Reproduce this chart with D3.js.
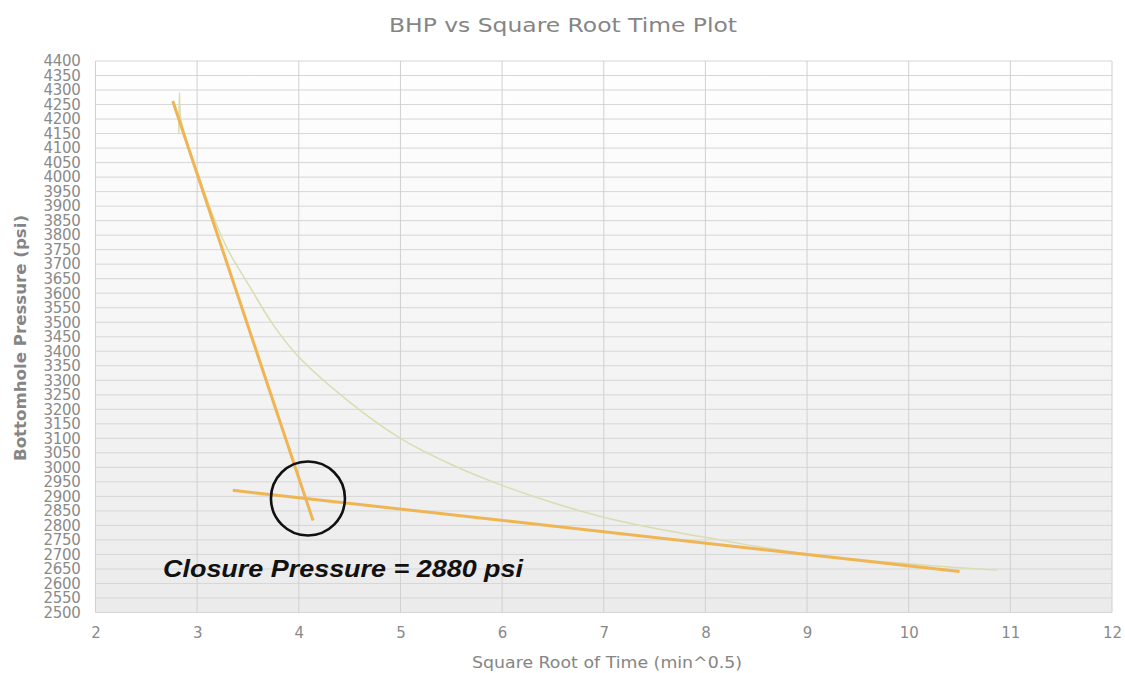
<!DOCTYPE html>
<html><head><meta charset="utf-8">
<script src="https://cdn.jsdelivr.net/npm/d3@7"></script>
<style>body{margin:0;background:#fff}</style>
</head><body>
<svg id="c" width="1125" height="673"></svg>
<script>
// Data
const curveX = [2.82, 2.825, 2.84, 2.92, 3.02, 3.12, 3.22, 3.32, 3.52, 3.75, 4.0, 4.5, 5.0, 5.5, 6.0, 6.5, 7.0, 7.5, 8.0, 8.5, 9.0, 9.5, 10.0, 10.5, 10.87];
const curveY = [4150, 4290, 4200, 4100, 4000, 3900, 3812, 3738, 3621, 3490, 3380, 3225, 3100, 3010, 2938, 2878, 2828, 2790, 2759, 2728, 2702, 2683, 2668, 2654, 2646];
const steepX = [2.76, 4.14];
const steepY = [4262, 2817];
const flatX = [3.35, 10.5];
const flatY = [2921, 2641];
const circleCenter = [4.09, 2893];
const xTicks = [2,3,4,5,6,7,8,9,10,11,12];
const yTicks = d3.range(2500, 4401, 50);
const titleText = "BHP vs Square Root Time Plot";
const xTitle = "Square Root of Time (min^0.5)";
const yTitle = "Bottomhole Pressure (psi)";
const annotation = "Closure Pressure = 2880 psi";

const svg = d3.select("#c");
const L = 95.5, R = 1112, T = 61, B = 612.5;
const x = d3.scaleLinear().domain([2, 12]).range([L, R]);
const y = d3.scaleLinear().domain([2500, 4400]).range([B, T]);

const defs = svg.append("defs");
const g = defs.append("linearGradient").attr("id","bg").attr("x1",0).attr("y1",0).attr("x2",0).attr("y2",1);
g.append("stop").attr("offset","0%").attr("stop-color","#ffffff");
g.append("stop").attr("offset","100%").attr("stop-color","#ebebeb");

svg.append("rect").attr("x",L).attr("y",T).attr("width",R-L).attr("height",B-T).attr("fill","url(#bg)");

// gridlines
svg.append("g").selectAll("line.h").data(yTicks).join("line")
  .attr("x1",L).attr("x2",R).attr("y1",d=>y(d)).attr("y2",d=>y(d))
  .attr("stroke","#d6d6d6").attr("stroke-width",1);
svg.append("g").selectAll("line.v").data(xTicks).join("line")
  .attr("x1",d=>x(d)).attr("x2",d=>x(d)).attr("y1",T).attr("y2",B)
  .attr("stroke","#d0d0d0").attr("stroke-width",1);

// axes
const xa = svg.append("g").attr("transform",`translate(0,${B})`)
  .call(d3.axisBottom(x).tickValues(xTicks).tickSize(0).tickPadding(15).tickFormat(d3.format("d")));
xa.select(".domain").remove();
xa.selectAll("text").attr("fill","#8a8a8a").style("font-family","DejaVu Sans, sans-serif").style("font-size","15px");

const ya = svg.append("g").attr("transform",`translate(${L},0)`)
  .call(d3.axisLeft(y).tickValues(yTicks).tickSize(0).tickPadding(15).tickFormat(d3.format("d")));
ya.select(".domain").remove();
ya.selectAll("text").attr("fill","#8a8a8a").style("font-family","DejaVu Sans, sans-serif").style("font-size","15px").style("letter-spacing","-0.3px");

// data curve
svg.append("path").datum(curveX.map((v,i)=>[v,curveY[i]]))
  .attr("d", d3.line().x(d=>x(d[0])).y(d=>y(d[1])).curve(d3.curveCatmullRom))
  .attr("fill","none").attr("stroke","#d9ddb0").attr("stroke-width",1.5);

// tangent lines
svg.append("path").datum(steepX.map((v,i)=>[v,steepY[i]]))
  .attr("d", d3.line().x(d=>x(d[0])).y(d=>y(d[1])))
  .attr("fill","none").attr("stroke","#eeb552").attr("stroke-width",3);
svg.append("path").datum(flatX.map((v,i)=>[v,flatY[i]]))
  .attr("d", d3.line().x(d=>x(d[0])).y(d=>y(d[1])))
  .attr("fill","none").attr("stroke","#eeb552").attr("stroke-width",3);

// circle
svg.append("circle").attr("cx",x(circleCenter[0])).attr("cy",y(circleCenter[1])).attr("r",37)
  .attr("fill","none").attr("stroke","#111").attr("stroke-width",2.6);

// annotation
svg.append("text").attr("x",163).attr("y",577).text(annotation)
  .attr("fill","#111").style("font-family","Liberation Sans, Arial, sans-serif")
  .style("font-weight","bold").style("font-style","italic").style("font-size","23px")
  .attr("textLength",360).attr("lengthAdjust","spacingAndGlyphs");

// title
svg.append("text").attr("x",563).attr("y",32).attr("text-anchor","middle").text(titleText)
  .attr("fill","#858585").style("font-family","DejaVu Sans, sans-serif").style("font-size","20px")
  .attr("textLength",348).attr("lengthAdjust","spacingAndGlyphs");

// axis titles
svg.append("text").attr("x",607).attr("y",668).attr("text-anchor","middle").text(xTitle)
  .attr("fill","#858585").style("font-family","DejaVu Sans, sans-serif").style("font-size","15px")
  .attr("textLength",270).attr("lengthAdjust","spacingAndGlyphs");

svg.append("text").attr("transform","translate(26,338) rotate(-90)").attr("text-anchor","middle").text(yTitle)
  .attr("fill","#858585").style("font-family","DejaVu Sans, sans-serif").style("font-size","16px").style("font-weight","bold")
  .attr("textLength",246).attr("lengthAdjust","spacingAndGlyphs");
</script>
</body></html>
